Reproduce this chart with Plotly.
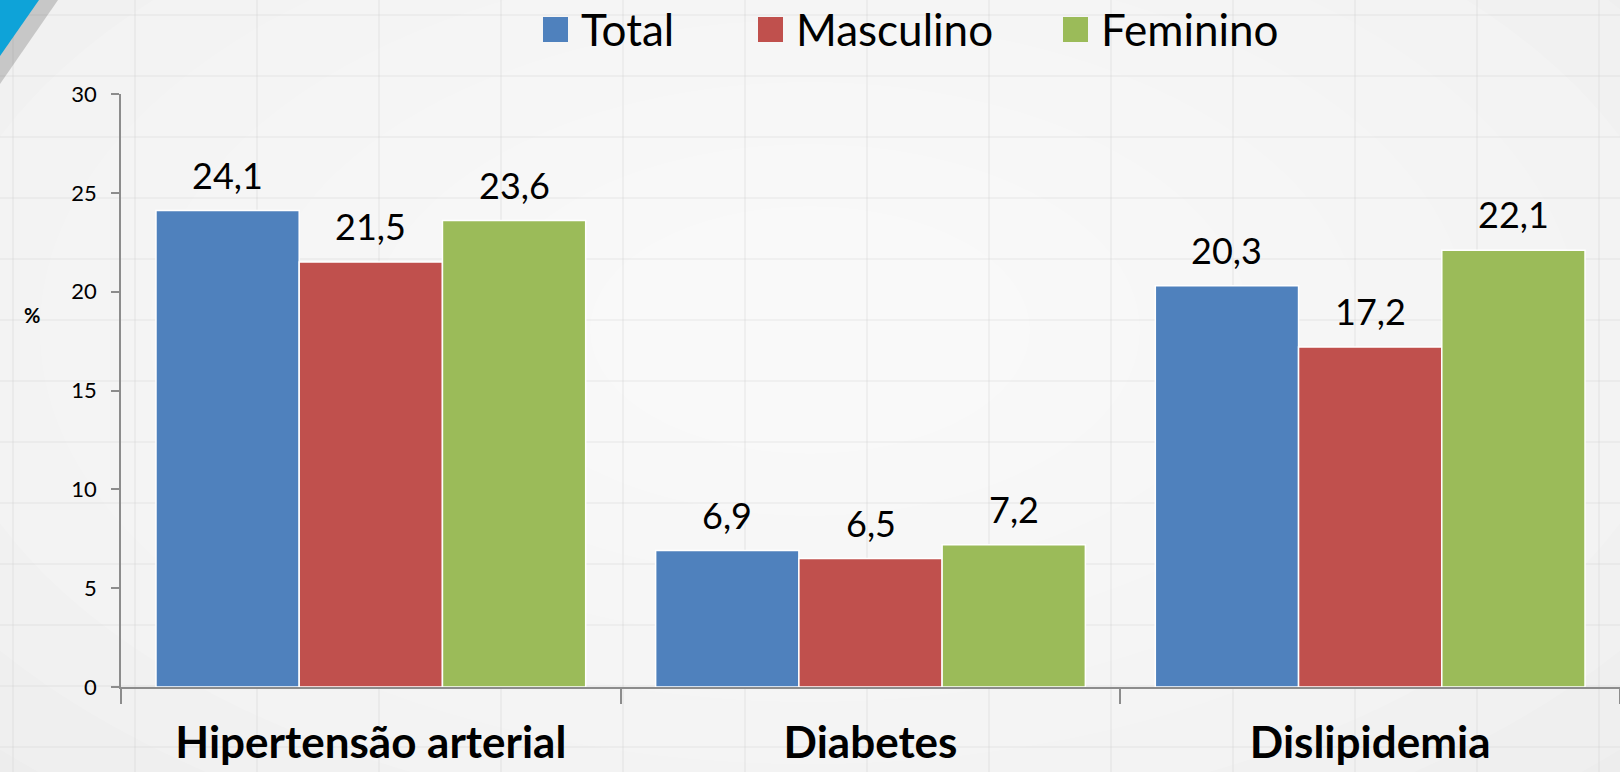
import plotly.graph_objects as go

# --- data -------------------------------------------------------------
categories = ["Hipertensão arterial", "Diabetes", "Dislipidemia"]
series_names = ["Total", "Masculino", "Feminino"]
total = [24.1, 6.9, 20.3]
masculino = [21.5, 6.5, 17.2]
feminino = [23.6, 7.2, 22.1]
y_ticks = [0, 5, 10, 15, 20, 25, 30]
y_axis_label = "%"

series_values = [total, masculino, feminino]
colors = ["#4F81BD", "#C0504D", "#9BBB59"]

# --- geometry (pixels) ------------------------------------------------
W, H = 1620, 772
M_L, M_R, M_T, M_B = 121, 0, 94, 85
PW, PH = W - M_L - M_R, H - M_T - M_B
BARGAP = 0.14
BAR_PX = PW / len(categories) * (1 - BARGAP) / len(series_names)


def px_x(px):
    return (px - M_L) / PW


def px_y(py):
    return (H - M_B - py) / PH


FONT = "Lato, Carlito, Calibri, sans-serif"

fig = go.Figure()
for name, vals, col in zip(series_names, series_values, colors):
    fig.add_trace(go.Bar(
        x=categories, y=vals, name=name,
        marker=dict(color=col, line=dict(color="white", width=1.5)),
        showlegend=False,
    ))

annotations = []
shapes = []

# soft radial lightening of the background
cx, cy = 810, 330
for k in range(9):
    rx = 1100 - k * 110
    ry = 620 - k * 62
    shapes.append(dict(
        type="circle", xref="paper", yref="paper", layer="below",
        x0=px_x(cx - rx), x1=px_x(cx + rx), y0=px_y(cy + ry), y1=px_y(cy - ry),
        fillcolor="rgba(255,255,255,0.15)", line=dict(width=0),
    ))

# faint graph-paper lines of the slide background
for gx in range(13, W, 122):
    shapes.append(dict(type="line", xref="paper", yref="paper", layer="below",
                       x0=px_x(gx), x1=px_x(gx), y0=px_y(0), y1=px_y(H),
                       line=dict(color="rgba(205,205,205,0.22)", width=2)))
for gy in range(15, H, 61):
    shapes.append(dict(type="line", xref="paper", yref="paper", layer="below",
                       x0=px_x(0), x1=px_x(W), y0=px_y(gy), y1=px_y(gy),
                       line=dict(color="rgba(205,205,205,0.20)", width=2)))

# blue corner ribbon with its shadow
shapes.append(dict(type="path", xref="paper", yref="paper", layer="above",
                   path=f"M {px_x(0)},{px_y(0)} L {px_x(58)},{px_y(0)} L {px_x(0)},{px_y(84)} Z",
                   fillcolor="rgba(120,120,120,0.35)", line=dict(width=0)))
shapes.append(dict(type="path", xref="paper", yref="paper", layer="above",
                   path=f"M {px_x(0)},{px_y(0)} L {px_x(39)},{px_y(0)} L {px_x(0)},{px_y(56)} Z",
                   fillcolor="#0EA3D8", line=dict(width=0)))

# value labels above the bars
for i, vals in enumerate(series_values):
    for cat, v in zip(categories, vals):
        annotations.append(dict(
            x=cat, y=v, xref="x", yref="y",
            text=f"{v:.1f}".replace(".", ","),
            showarrow=False, yanchor="bottom",
            xshift=(i - 1) * BAR_PX, yshift=12,
            font=dict(family=FONT, size=36, color="#000000"),
        ))

# legend drawn as coloured squares and labels across the top
legend_sq_x = [543, 758, 1063]
for name, col, sx in zip(series_names, colors, legend_sq_x):
    shapes.append(dict(type="rect", xref="paper", yref="paper",
                       x0=px_x(sx), x1=px_x(sx + 25), y0=px_y(42), y1=px_y(17),
                       fillcolor=col, line=dict(width=0)))
    annotations.append(dict(
        x=px_x(sx + 36), y=px_y(29), xref="paper", yref="paper",
        text=name, showarrow=False, xanchor="left", yanchor="middle",
        font=dict(family=FONT, size=44, color="#000000"),
    ))

# y axis title
annotations.append(dict(
    x=px_x(22), y=px_y(315), xref="paper", yref="paper",
    text=f"<b>{y_axis_label}</b>", showarrow=False,
    font=dict(family=FONT, size=20, color="#000000"),
))

axis_col = "#8C8C8C"
fig.update_layout(
    width=W, height=H,
    margin=dict(l=M_L, r=M_R, t=M_T, b=M_B, pad=0),
    paper_bgcolor="#EDEDED",
    plot_bgcolor="rgba(0,0,0,0)",
    barmode="group", bargap=BARGAP, bargroupgap=0,
    separators=", ",
    showlegend=False,
    shapes=shapes,
    annotations=annotations,
    font=dict(family=FONT, color="#000000"),
    xaxis=dict(
        type="category", showline=True, linecolor=axis_col, linewidth=1.5,
        ticks="outside", tickson="boundaries", ticklen=15, tickcolor=axis_col,
        tickwidth=1.5, showgrid=False, zeroline=False,
        tickfont=dict(family=FONT, size=44, color="#000000"),
        tickprefix="<b>", ticksuffix="</b>",
        ticklabelstandoff=16, automargin=False,
    ),
    yaxis=dict(
        range=[0, 30], tickvals=y_ticks, showline=True, linecolor=axis_col,
        linewidth=1.5, ticks="outside", ticklen=8, tickcolor=axis_col,
        tickwidth=1.5, showgrid=False, zeroline=False,
        tickfont=dict(family=FONT, size=22, color="#000000"),
        ticklabelstandoff=10, automargin=False,
    ),
)

fig.write_html("out.html")
